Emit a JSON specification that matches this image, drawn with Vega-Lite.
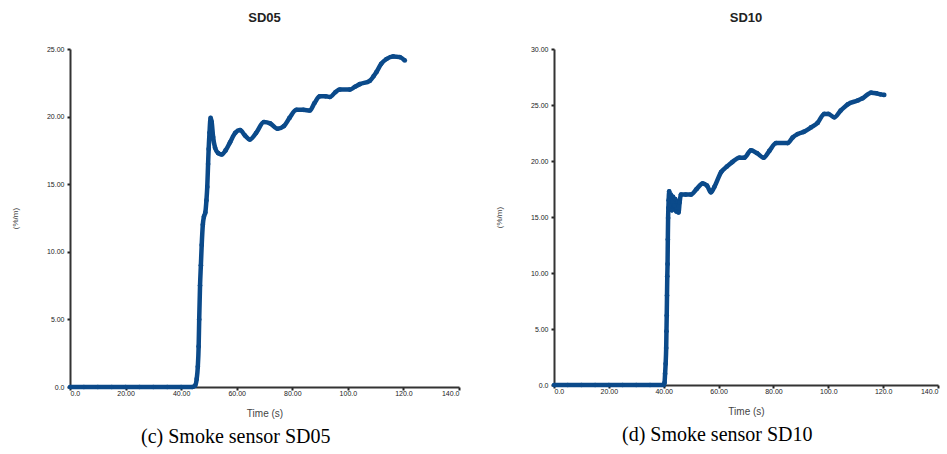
{
  "$schema": "https://vega.github.io/schema/vega-lite/v6.json",
  "background": "white",
  "padding": {"left": 11, "top": 12, "right": 2, "bottom": 2},
  "datasets": {
    "sd05": [
      {"t": 0, "v": 0}, {"t": 5, "v": 0}, {"t": 10, "v": 0}, {"t": 15, "v": 0}, {"t": 20, "v": 0}, {"t": 25, "v": 0}, {"t": 30, "v": 0}, {"t": 35, "v": 0}, {"t": 40, "v": 0}, {"t": 44, "v": 0},
      {"t": 45, "v": 0.1}, {"t": 45.6, "v": 0.6}, {"t": 46, "v": 1.5}, {"t": 46.3, "v": 3}, {"t": 46.5, "v": 5}, {"t": 46.8, "v": 7.5}, {"t": 47.1, "v": 9}, {"t": 47.4, "v": 10.5}, {"t": 47.8, "v": 12}, {"t": 48.2, "v": 12.6}, {"t": 48.7, "v": 12.9}, {"t": 49.1, "v": 13.8}, {"t": 49.4, "v": 14.8}, {"t": 49.7, "v": 16.5}, {"t": 49.9, "v": 17.6}, {"t": 50.2, "v": 18.8}, {"t": 50.6, "v": 19.9}, {"t": 51.0, "v": 19.6}, {"t": 51.5, "v": 18.5}, {"t": 52.2, "v": 17.7}, {"t": 53.3, "v": 17.3}, {"t": 54.6, "v": 17.2}, {"t": 56, "v": 17.5}, {"t": 57.6, "v": 18.1}, {"t": 59.5, "v": 18.8}, {"t": 61.2, "v": 19.0}, {"t": 63, "v": 18.6}, {"t": 64.7, "v": 18.3}, {"t": 67, "v": 18.8}, {"t": 69.8, "v": 19.6}, {"t": 72, "v": 19.5}, {"t": 74.7, "v": 19.1}, {"t": 77, "v": 19.3}, {"t": 79, "v": 19.9}, {"t": 81.5, "v": 20.5}, {"t": 84, "v": 20.5}, {"t": 86.3, "v": 20.45}, {"t": 88, "v": 21.0}, {"t": 89.9, "v": 21.5}, {"t": 92, "v": 21.5}, {"t": 93.5, "v": 21.45}, {"t": 95.5, "v": 21.8}, {"t": 97.1, "v": 22.0}, {"t": 100.7, "v": 22.0}, {"t": 102.5, "v": 22.2}, {"t": 104.3, "v": 22.4}, {"t": 107.9, "v": 22.65}, {"t": 109.3, "v": 23.0}, {"t": 110.3, "v": 23.3}, {"t": 112, "v": 23.9}, {"t": 113.9, "v": 24.26}, {"t": 116.3, "v": 24.45}, {"t": 118.7, "v": 24.4}, {"t": 120.5, "v": 24.15}
    ],
    "sd10": [
      {"t": 0, "v": 0}, {"t": 5, "v": 0}, {"t": 10, "v": 0}, {"t": 15, "v": 0}, {"t": 20, "v": 0}, {"t": 25, "v": 0}, {"t": 30, "v": 0}, {"t": 35, "v": 0}, {"t": 40, "v": 0},
      {"t": 40.3, "v": 0.2}, {"t": 40.5, "v": 1.0}, {"t": 40.7, "v": 1.9}, {"t": 40.9, "v": 3.3}, {"t": 41.0, "v": 4.8}, {"t": 41.1, "v": 6.2}, {"t": 41.2, "v": 8}, {"t": 41.3, "v": 9.7}, {"t": 41.4, "v": 10.8}, {"t": 41.5, "v": 13}, {"t": 41.6, "v": 14.9}, {"t": 41.7, "v": 15.8}, {"t": 41.8, "v": 16.5}, {"t": 42.0, "v": 17.3}, {"t": 42.3, "v": 16.0}, {"t": 42.6, "v": 17.0}, {"t": 43.0, "v": 15.6}, {"t": 43.4, "v": 16.8}, {"t": 43.8, "v": 16.0}, {"t": 44.2, "v": 16.6}, {"t": 44.6, "v": 15.5}, {"t": 45.0, "v": 16.4}, {"t": 45.4, "v": 15.4}, {"t": 45.8, "v": 16.3}, {"t": 46.3, "v": 17.0}, {"t": 48, "v": 17.0}, {"t": 49.9, "v": 17.0}, {"t": 52, "v": 17.5}, {"t": 54.2, "v": 18.0}, {"t": 55.8, "v": 17.8}, {"t": 57.2, "v": 17.2}, {"t": 58.5, "v": 17.7}, {"t": 60.9, "v": 19.0}, {"t": 63, "v": 19.5}, {"t": 65, "v": 19.9}, {"t": 67.6, "v": 20.3}, {"t": 69.4, "v": 20.3}, {"t": 71.8, "v": 20.95}, {"t": 74, "v": 20.7}, {"t": 76.4, "v": 20.3}, {"t": 78.5, "v": 20.9}, {"t": 81, "v": 21.6}, {"t": 85.2, "v": 21.6}, {"t": 87, "v": 22.1}, {"t": 88.8, "v": 22.4}, {"t": 91, "v": 22.6}, {"t": 93.7, "v": 23.0}, {"t": 96.1, "v": 23.4}, {"t": 98.5, "v": 24.2}, {"t": 100, "v": 24.2}, {"t": 102.2, "v": 23.9}, {"t": 104.5, "v": 24.5}, {"t": 107.1, "v": 25.06}, {"t": 110.7, "v": 25.4}, {"t": 112.5, "v": 25.6}, {"t": 115.6, "v": 26.1}, {"t": 117.5, "v": 26.05}, {"t": 119, "v": 25.95}, {"t": 120.4, "v": 25.9}
    ]
  },
  "config": {
    "view": {"stroke": null},
    "font": "Liberation Sans",
    "axis": {
      "grid": false,
      "domainColor": "#333333",
      "domainWidth": 2,
      "tickColor": "#222222",
      "tickWidth": 2,
      "tickSize": 3,
      "labelFont": "Liberation Sans",
      "labelFontSize": 7,
      "labelColor": "#222222",
      "titleFont": "Liberation Sans",
      "titleFontWeight": "normal",
      "titleColor": "#444444"
    },
    "axisX": {"labelPadding": -1, "titleFontSize": 10, "titlePadding": 12},
    "axisY": {"labelPadding": 3, "titleFontSize": 8, "titlePadding": 27},
    "title": {"font": "Liberation Sans", "fontSize": 13, "fontWeight": "bold", "color": "#222222"},
    "concat": {"spacing": 35}
  },
  "hconcat": [
    {
      "title": {"text": "(c) Smoke sensor SD05", "orient": "bottom", "anchor": "middle", "font": "Liberation Serif", "fontSize": 20, "fontWeight": "normal", "color": "#000000", "offset": 9},
      "hconcat": [
        {
          "title": {"text": "SD05", "offset": 20},
          "width": 389,
          "height": 338,
          "data": {"name": "sd05"},
          "mark": {"type": "line", "color": "#0b4a8a", "strokeWidth": 4.5, "interpolate": "monotone", "point": {"filled": true, "size": 22, "color": "#0b4a8a"}},
          "encoding": {
            "x": {"field": "t", "type": "quantitative", "title": "Time (s)", "scale": {"domain": [0, 140], "nice": false}, "axis": {"values": [0, 20, 40, 60, 80, 100, 120, 140], "labelExpr": "datum.value == 0 ? '0.0' : datum.value < 100 ? format(datum.value, '.2f') : format(datum.value, '.1f')"}},
            "y": {"field": "v", "type": "quantitative", "title": "(%/m)", "scale": {"domain": [0, 25], "nice": false}, "axis": {"values": [0, 5, 10, 15, 20, 25], "labelExpr": "datum.value == 0 ? '0.0' : format(datum.value, '.2f')"}}
          }
        }
      ]
    },
    {
      "title": {"text": "(d) Smoke sensor SD10", "orient": "bottom", "anchor": "middle", "font": "Liberation Serif", "fontSize": 20, "fontWeight": "normal", "color": "#000000", "offset": 9},
      "hconcat": [
        {
          "title": {"text": "SD10", "offset": 20},
          "width": 384,
          "height": 336,
          "data": {"name": "sd10"},
          "mark": {"type": "line", "color": "#0b4a8a", "strokeWidth": 4.5, "interpolate": "monotone", "point": {"filled": true, "size": 22, "color": "#0b4a8a"}},
          "encoding": {
            "x": {"field": "t", "type": "quantitative", "title": "Time (s)", "scale": {"domain": [0, 140], "nice": false}, "axis": {"values": [0, 20, 40, 60, 80, 100, 120, 140], "labelExpr": "datum.value == 0 ? '0.0' : datum.value < 100 ? format(datum.value, '.2f') : format(datum.value, '.1f')"}},
            "y": {"field": "v", "type": "quantitative", "title": "(%/m)", "scale": {"domain": [0, 30], "nice": false}, "axis": {"values": [0, 5, 10, 15, 20, 25, 30], "labelExpr": "datum.value == 0 ? '0.0' : format(datum.value, '.2f')"}}
          }
        }
      ]
    }
  ]
}
